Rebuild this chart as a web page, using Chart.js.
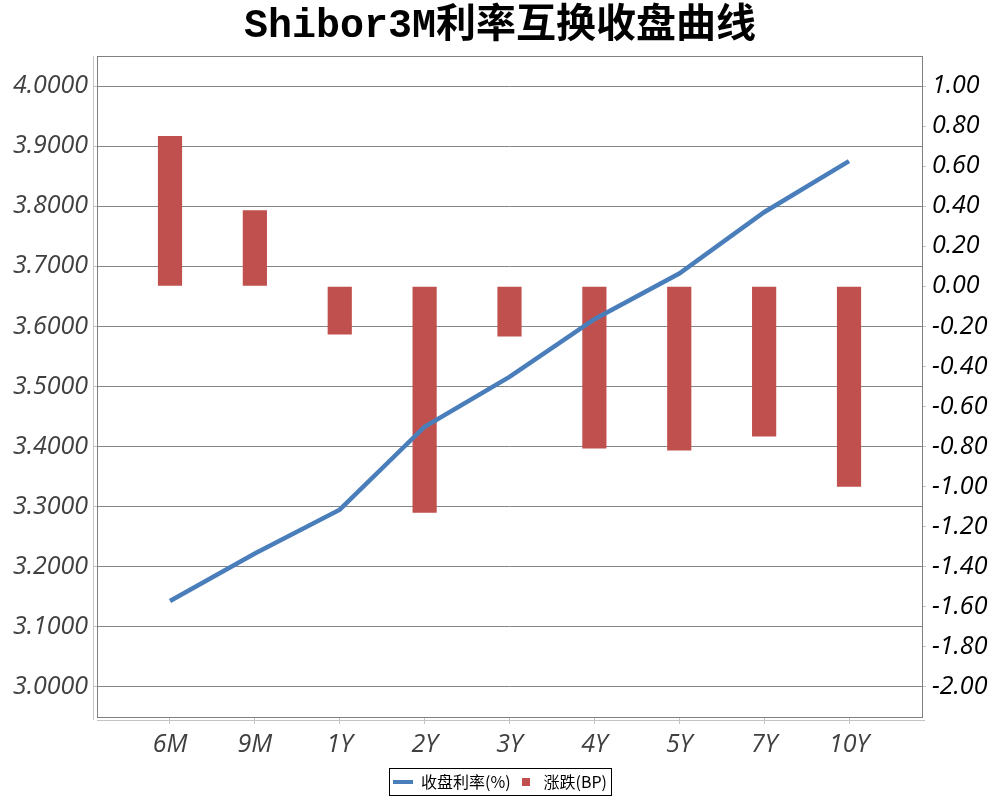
<!DOCTYPE html>
<html>
<head>
<meta charset="utf-8">
<script src="https://cdn.jsdelivr.net/npm/chart.js@4/dist/chart.umd.min.js"></script>
<style>
    html, body { margin:0; padding:0; background:#fff; }
    #wrap { width:1000px; height:800px; }
</style>
</head>
<body>
<div id="wrap"><canvas id="curveChart" width="1000" height="800"></canvas></div>
<script>
const categories = ['6M', '9M', '1Y', '2Y', '3Y', '4Y', '5Y', '7Y', '10Y']
const closeRates = [3.143, 3.222, 3.295, 3.433, 3.516, 3.612, 3.688, 3.790, 3.875]
const changeBP = [0.75, 0.38, -0.24, -1.13, -0.25, -0.81, -0.82, -0.75, -1.00]
const leftTicks = [3.0, 3.1, 3.2, 3.3, 3.4, 3.5, 3.6, 3.7, 3.8, 3.9, 4.0]
const rightTicks = [-2.0, -1.8, -1.6, -1.4, -1.2, -1.0, -0.8, -0.6, -0.4, -0.2, 0.0, 0.2, 0.4, 0.6, 0.8, 1.0]

const lineColor = '#4A7EBB'
const barColor = '#C0504D'
const tickFont = { family:"'Open Sans'", size:25, style:'italic' }

// small legend markers
function marker(w, h, color) {
    const c = document.createElement('canvas')
    c.width = w
    c.height = h
    const g = c.getContext('2d')
    g.fillStyle = color
    g.fillRect(0, 0, w, h)
    return c
}
const lineMarker = marker(20, 4, lineColor)
const barMarker = marker(8, 8, barColor)

const framePlugin = {
    id:'frame',
    beforeDatasetsDraw(chart) {
        const ctx = chart.ctx
        const a = chart.chartArea
        ctx.save()
        ctx.lineWidth = 1
        ctx.strokeStyle = '#c4c4c4'
        ctx.beginPath()
        ctx.moveTo(a.left - 3.5, a.top)
        ctx.lineTo(a.left - 3.5, a.bottom + 3)
        ctx.moveTo(a.left, a.bottom + 3.5)
        ctx.lineTo(a.right + 3, a.bottom + 3.5)
        ctx.stroke()
        ctx.strokeStyle = '#808080'
        ctx.strokeRect(Math.round(a.left) + 0.5, Math.round(a.top) + 0.5,
            Math.round(a.right - a.left), Math.round(a.bottom - a.top))
        ctx.restore()
    },
    afterDraw(chart) {
        const boxes = chart.legend.legendHitBoxes
        if(!boxes || !boxes.length) return
        let l = Infinity, r = -Infinity, t = Infinity, b = -Infinity
        boxes.forEach(h => {
            l = Math.min(l, h.left)
            r = Math.max(r, h.left + h.width)
            t = Math.min(t, h.top)
            b = Math.max(b, h.top + h.height)
        })
        const ctx = chart.ctx
        ctx.save()
        ctx.strokeStyle = '#000'
        ctx.lineWidth = 1
        ctx.strokeRect(Math.round(l - 4) + 0.5, Math.round(t - 6) + 0.5,
            Math.round(r - l + 8), Math.round(b - t + 11))
        ctx.restore()
    }
}

new Chart(document.getElementById('curveChart'), {
    data:{
        datasets:[
            {
                type:'line',
                label:'收盘利率(%)',
                data:categories.map((c, i) => ({ x:i, y:closeRates[i] })),
                yAxisID:'y',
                borderColor:lineColor,
                backgroundColor:lineColor,
                borderWidth:4.5,
                pointRadius:0,
                tension:0,
                order:0
            },
            {
                type:'bar',
                label:'涨跌(BP)',
                data:categories.map((c, i) => ({ x:i, y:changeBP[i] })),
                yAxisID:'y1',
                backgroundColor:barColor,
                categoryPercentage:1,
                barPercentage:0.285,
                order:1
            }
        ]
    },
    options:{
        responsive:false,
        animation:false,
        layout:{ padding:{ top:0, bottom:0, left:0, right:0 } },
        plugins:{
            tooltip:{ enabled:false },
            title:{
                display:true,
                text:'Shibor3M利率互换收盘曲线',
                color:'#000',
                font:{ family:"'Liberation Mono', 'Noto Sans CJK SC'", size:40, weight:'bold' },
                padding:{ top:3, bottom:5 }
            },
            legend:{
                position:'bottom',
                labels:{
                    color:'#000',
                    font:{ family:"'Noto Sans CJK SC'", size:16 },
                    usePointStyle:true,
                    pointStyleWidth:20,
                    boxHeight:16,
                    padding:5,
                    generateLabels(chart) {
                        const items = Chart.defaults.plugins.legend.labels.generateLabels(chart)
                        items.forEach(it => {
                            it.pointStyle = it.datasetIndex === 0 ? lineMarker : barMarker
                        })
                        return items
                    }
                }
            }
        },
        scales:{
            x:{
                type:'linear',
                offset:false,
                min:-0.86,
                max:8.86,
                afterBuildTicks:scale => {
                    scale.ticks = categories.map((c, i) => ({ value:i }))
                },
                afterFit:scale => { scale.height = 52 },
                ticks:{
                    color:'#404040',
                    font:tickFont,
                    padding:6,
                    maxRotation:0,
                    autoSkip:false,
                    callback:v => categories[v]
                },
                grid:{ offset:false, drawOnChartArea:false, tickLength:7, color:'#c4c4c4' },
                border:{ display:false }
            },
            y:{
                position:'left',
                min:2.95,
                max:4.05,
                afterBuildTicks:scale => {
                    scale.ticks = leftTicks.map(v => ({ value:v }))
                },
                afterFit:scale => { scale.width = 97 },
                ticks:{
                    color:'#404040',
                    font:tickFont,
                    padding:5,
                    callback:v => v.toFixed(4)
                },
                grid:{ color:'#858585', tickColor:'#c4c4c4', tickLength:4 },
                border:{ display:false }
            },
            y1:{
                position:'right',
                min:-2.15,
                max:1.15,
                afterBuildTicks:scale => {
                    scale.ticks = rightTicks.map(v => ({ value:v }))
                },
                afterFit:scale => { scale.width = 78 },
                ticks:{
                    color:'#000',
                    font:tickFont,
                    padding:6,
                    callback:v => v.toFixed(2)
                },
                grid:{ drawOnChartArea:false, tickColor:'#c4c4c4', tickLength:4 },
                border:{ display:false }
            }
        }
    },
    plugins:[framePlugin]
})
</script>
</body>
</html>
